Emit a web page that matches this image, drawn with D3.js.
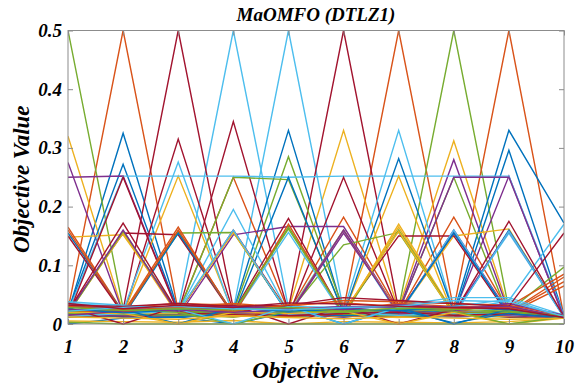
<!DOCTYPE html>
<html>
<head>
<meta charset="utf-8">
<script src="https://cdn.jsdelivr.net/npm/d3@7"></script>
<style>
  html, body { margin: 0; padding: 0; background: #fff; }
  svg text { font-family: "Liberation Serif", "Times New Roman", serif; font-weight: bold; font-style: italic; fill: #000; }
</style>
</head>
<body>
<svg id="chart" width="576" height="390"></svg>
<script>
// Objective indices on the x axis
const objectives = [1, 2, 3, 4, 5, 6, 7, 8, 9, 10];
const yTicks = [0, 0.1, 0.2, 0.3, 0.4, 0.5];
const yTickLabels = ["0", "0.1", "0.2", "0.3", "0.4", "0.5"];
const titleText = "MaOMFO (DTLZ1)";
const xLabel = "Objective No.";
const yLabel = "Objective Value";

// Final population, one row per solution (values of objectives 1..10)
const solutions = [
  [0.020,0.325,0.022,0.015,0.018,0.012,0.020,0.016,0.019,0.010],
  [0.024,0.500,0.022,0.014,0.016,0.020,0.012,0.018,0.021,0.010],
  [0.320,0.020,0.018,0.012,0.021,0.015,0.011,0.020,0.016,0.012],
  [0.275,0.018,0.020,0.016,0.014,0.022,0.015,0.013,0.018,0.011],
  [0.500,0.027,0.015,0.019,0.013,0.017,0.021,0.014,0.012,0.010],
  [0.012,0.018,0.025,0.500,0.028,0.016,0.013,0.019,0.015,0.011],
  [0.016,0.024,0.500,0.026,0.012,0.018,0.020,0.015,0.017,0.012],

  [0.022,0.272,0.020,0.017,0.015,0.019,0.014,0.021,0.013,0.010],
  [0.014,0.017,0.012,0.020,0.016,0.025,0.500,0.024,0.018,0.011],
  [0.018,0.013,0.021,0.015,0.024,0.330,0.022,0.014,0.019,0.012],
  [0.250,0.252,0.020,0.016,0.013,0.018,0.015,0.022,0.014,0.010],
  [0.013,0.019,0.016,0.012,0.021,0.014,0.026,0.500,0.025,0.011],
  [0.017,0.014,0.019,0.024,0.500,0.023,0.016,0.012,0.020,0.010],
  [0.015,0.021,0.013,0.018,0.026,0.500,0.024,0.017,0.014,0.012],

  [0.019,0.016,0.014,0.022,0.330,0.020,0.018,0.013,0.017,0.011],
  [0.012,0.015,0.018,0.013,0.017,0.014,0.019,0.026,0.500,0.012],
  [0.016,0.020,0.013,0.017,0.015,0.022,0.027,0.312,0.024,0.010],
  [0.021,0.012,0.017,0.014,0.019,0.016,0.022,0.280,0.020,0.012],
  [0.014,0.018,0.022,0.020,0.285,0.024,0.013,0.016,0.015,0.010],
  [0.013,0.017,0.015,0.019,0.014,0.022,0.330,0.020,0.018,0.011],
  [0.018,0.014,0.315,0.021,0.016,0.013,0.017,0.019,0.012,0.010],

  [0.015,0.019,0.012,0.016,0.018,0.021,0.014,0.020,0.330,0.172],
  [0.017,0.013,0.020,0.250,0.022,0.015,0.018,0.012,0.016,0.011],
  [0.020,0.016,0.252,0.018,0.013,0.019,0.015,0.017,0.021,0.012],
  [0.014,0.021,0.016,0.013,0.017,0.012,0.020,0.018,0.252,0.010],
  [0.019,0.015,0.014,0.017,0.020,0.018,0.021,0.250,0.013,0.011],
  [0.016,0.022,0.276,0.015,0.012,0.017,0.013,0.021,0.019,0.010],
  [0.013,0.017,0.019,0.345,0.021,0.014,0.016,0.013,0.018,0.012],

  [0.018,0.013,0.017,0.014,0.016,0.020,0.012,0.015,0.296,0.014],
  [0.015,0.018,0.014,0.016,0.020,0.182,0.022,0.013,0.017,0.011],
  [0.148,0.152,0.020,0.015,0.018,0.013,0.021,0.016,0.014,0.010],
  [0.017,0.012,0.018,0.020,0.015,0.021,0.019,0.014,0.013,0.010],
  [0.016,0.014,0.019,0.250,0.246,0.020,0.015,0.018,0.013,0.010],
  [0.020,0.252,0.252,0.252,0.250,0.252,0.252,0.252,0.252,0.015],
  [0.014,0.250,0.018,0.013,0.016,0.021,0.017,0.020,0.015,0.012],

  [0.012,0.016,0.020,0.015,0.250,0.018,0.014,0.021,0.017,0.010],
  [0.018,0.015,0.013,0.020,0.017,0.014,0.019,0.182,0.021,0.012],
  [0.015,0.019,0.016,0.014,0.021,0.017,0.252,0.013,0.018,0.011],
  [0.020,0.014,0.018,0.017,0.013,0.016,0.021,0.250,0.250,0.012],
  [0.017,0.021,0.014,0.018,0.016,0.020,0.013,0.019,0.022,0.097],
  [0.014,0.017,0.021,0.195,0.019,0.015,0.018,0.012,0.016,0.011],
  [0.016,0.013,0.017,0.021,0.014,0.250,0.020,0.016,0.019,0.010],

  [0.013,0.018,0.015,0.019,0.021,0.016,0.282,0.020,0.014,0.012],
  [0.019,0.016,0.021,0.014,0.018,0.022,0.015,0.017,0.020,0.080],
  [0.017,0.014,0.019,0.016,0.013,0.021,0.018,0.150,0.162,0.012],
  [0.015,0.020,0.013,0.152,0.166,0.166,0.019,0.014,0.017,0.010],
  [0.014,0.017,0.020,0.015,0.019,0.135,0.156,0.016,0.021,0.011],
  [0.018,0.015,0.017,0.020,0.014,0.018,0.016,0.021,0.040,0.170],
  [0.021,0.155,0.152,0.015,0.018,0.013,0.017,0.020,0.016,0.011],

  [0.017,0.021,0.016,0.014,0.020,0.015,0.019,0.022,0.013,0.010],
  [0.016,0.013,0.018,0.017,0.015,0.019,0.014,0.018,0.020,0.072],
  [0.013,0.016,0.014,0.021,0.017,0.014,0.170,0.018,0.015,0.011],
  [0.014,0.018,0.021,0.013,0.016,0.020,0.017,0.160,0.019,0.012],
  [0.015,0.019,0.155,0.156,0.018,0.016,0.020,0.013,0.017,0.010],
  [0.016,0.020,0.013,0.017,0.019,0.160,0.015,0.021,0.018,0.011],
  [0.019,0.015,0.017,0.020,0.180,0.014,0.018,0.016,0.021,0.012],

  [0.014,0.017,0.020,0.158,0.016,0.019,0.015,0.018,0.014,0.011],
  [0.165,0.020,0.017,0.013,0.019,0.016,0.021,0.014,0.018,0.065],
  [0.018,0.155,0.014,0.019,0.016,0.017,0.013,0.020,0.015,0.010],
  [0.020,0.016,0.019,0.017,0.014,0.155,0.021,0.015,0.018,0.012],
  [0.016,0.014,0.017,0.020,0.165,0.018,0.016,0.021,0.013,0.011],
  [0.021,0.018,0.016,0.015,0.020,0.013,0.018,0.017,0.155,0.012],
  [0.013,0.016,0.020,0.018,0.015,0.021,0.150,0.150,0.014,0.010],

  [0.155,0.020,0.014,0.017,0.019,0.015,0.013,0.018,0.016,0.011],
  [0.160,0.018,0.016,0.019,0.014,0.017,0.020,0.015,0.013,0.012],
  [0.014,0.019,0.017,0.015,0.021,0.018,0.165,0.016,0.014,0.010],
  [0.017,0.015,0.013,0.020,0.018,0.016,0.019,0.155,0.017,0.011],
  [0.019,0.013,0.158,0.016,0.014,0.020,0.017,0.019,0.015,0.012],
  [0.015,0.017,0.019,0.016,0.156,0.014,0.021,0.013,0.018,0.011],
  [0.150,0.017,0.021,0.014,0.016,0.019,0.015,0.020,0.013,0.010],

  [0.018,0.014,0.016,0.021,0.015,0.017,0.020,0.014,0.160,0.012],
  [0.016,0.019,0.165,0.015,0.018,0.014,0.016,0.021,0.017,0.011],
  [0.020,0.016,0.015,0.013,0.017,0.160,0.019,0.015,0.020,0.010],
  [0.013,0.020,0.018,0.016,0.021,0.014,0.017,0.019,0.158,0.012],
  [0.017,0.158,0.020,0.019,0.013,0.016,0.018,0.017,0.014,0.011],
  [0.019,0.016,0.014,0.018,0.017,0.021,0.015,0.160,0.016,0.010],
  [0.014,0.019,0.018,0.160,0.020,0.015,0.016,0.014,0.019,0.012],

  [0.016,0.013,0.155,0.018,0.014,0.020,0.019,0.016,0.021,0.010],
  [0.018,0.017,0.019,0.014,0.170,0.016,0.013,0.020,0.015,0.012],
  [0.015,0.018,0.020,0.156,0.019,0.013,0.016,0.017,0.014,0.011],
  [0.019,0.160,0.016,0.014,0.018,0.017,0.021,0.013,0.016,0.010],
  [0.016,0.019,0.014,0.017,0.021,0.015,0.160,0.018,0.020,0.012],
  [0.014,0.021,0.018,0.016,0.015,0.019,0.017,0.014,0.158,0.011],
  [0.017,0.014,0.016,0.019,0.018,0.014,0.016,0.018,0.175,0.012],

  [0.016,0.019,0.013,0.017,0.020,0.014,0.018,0.155,0.017,0.011],
  [0.020,0.015,0.160,0.017,0.013,0.018,0.016,0.014,0.019,0.010],
  [0.014,0.017,0.019,0.015,0.018,0.020,0.158,0.016,0.013,0.012],
  [0.017,0.014,0.016,0.020,0.015,0.160,0.017,0.019,0.014,0.011],
  [0.018,0.016,0.015,0.019,0.162,0.017,0.014,0.016,0.020,0.010],
  [0.013,0.018,0.021,0.160,0.017,0.019,0.015,0.018,0.016,0.012],
  [0.021,0.172,0.019,0.016,0.014,0.018,0.020,0.015,0.017,0.011],

  [0.000,0.010,0.012,0.000,0.020,0.025,0.024,0.002,0.018,0.010],
  [0.030,0.028,0.035,0.032,0.030,0.040,0.038,0.035,0.032,0.015],
  [0.005,0.004,0.003,0.006,0.000,0.004,0.003,0.002,0.004,0.010],
  [0.025,0.022,0.030,0.028,0.025,0.030,0.028,0.030,0.025,0.012],
  [0.003,0.000,0.000,0.000,0.000,0.000,0.000,0.000,0.000,0.000],
  [0.035,0.030,0.028,0.025,0.030,0.028,0.032,0.045,0.045,0.015],
  [0.028,0.000,0.030,0.032,0.000,0.030,0.000,0.025,0.030,0.010],

  [0.030,0.025,0.000,0.028,0.030,0.000,0.028,0.000,0.025,0.012],
  [0.022,0.020,0.030,0.035,0.028,0.025,0.035,0.030,0.030,0.085],
  [0.020,0.018,0.000,0.020,0.018,0.022,0.000,0.020,0.000,0.010],
  [0.015,0.022,0.025,0.020,0.024,0.030,0.028,0.022,0.035,0.015],
  [0.022,0.025,0.020,0.000,0.022,0.020,0.025,0.022,0.000,0.012],
  [0.038,0.032,0.025,0.000,0.030,0.000,0.028,0.030,0.042,0.012],
  [0.032,0.030,0.035,0.030,0.032,0.045,0.040,0.035,0.030,0.155],

  [0.026,0.019,0.024,0.027,0.022,0.026,0.023,0.028,0.024,0.011],
  [0.030,0.024,0.028,0.022,0.033,0.036,0.030,0.026,0.028,0.013],
  [0.012,0.010,0.008,0.014,0.011,0.009,0.012,0.010,0.008,0.010],
  [0.024,0.027,0.022,0.030,0.026,0.024,0.033,0.028,0.030,0.012],
  [0.028,0.023,0.026,0.024,0.028,0.022,0.027,0.025,0.022,0.014],
  [0.022,0.028,0.030,0.026,0.024,0.028,0.030,0.040,0.038,0.013],
  [0.035,0.026,0.032,0.028,0.036,0.034,0.030,0.028,0.026,0.011]
];

// Default line colour order, cycled per solution
const lineColors = ["#0072BD", "#D95319", "#EDB120", "#7E2F8E", "#77AC30", "#4DBEEE", "#A2142F"];

const svg = d3.select("#chart");
const W = 576, H = 390;
const plot = { left: 68, right: 564, top: 30.5, bottom: 324 };

const x = d3.scaleLinear().domain([1, 10]).range([plot.left, plot.right]);
const y = d3.scaleLinear().domain([0, 0.5]).range([plot.bottom, plot.top]);
const color = d3.scaleOrdinal().domain(d3.range(lineColors.length)).range(lineColors);

svg.append("rect").attr("width", W).attr("height", H).attr("fill", "#fff");

// Clip lines to the axes box
svg.append("clipPath").attr("id", "plotClip")
  .append("rect")
  .attr("x", plot.left).attr("y", plot.top - 1)
  .attr("width", plot.right - plot.left).attr("height", plot.bottom - plot.top + 2);

const line = d3.line()
  .x((d, i) => x(objectives[i]))
  .y(d => y(d));

svg.append("g").attr("clip-path", "url(#plotClip)")
  .selectAll("path")
  .data(solutions)
  .join("path")
  .attr("d", d => line(d))
  .attr("fill", "none")
  .attr("stroke", (d, i) => color(i % lineColors.length))
  .attr("stroke-width", 1.4)
  .attr("stroke-linejoin", "miter");

// Axes box with inward ticks on all four sides
const axisColor = "#8c8c8c";
const tickLen = 5;

function styleAxis(g) {
  g.select(".domain").remove();
  g.selectAll(".tick line").attr("stroke", axisColor).attr("stroke-width", 1);
}

function styleTickText(g) {
  g.selectAll(".tick text")
    .attr("font-size", 19).attr("font-family", "Liberation Serif, serif")
    .attr("font-weight", "bold").attr("font-style", "italic").attr("fill", "#000");
}

svg.append("g")
  .attr("transform", `translate(0,${plot.bottom})`)
  .call(d3.axisBottom(x).tickValues(objectives).tickSize(-tickLen).tickPadding(16).tickFormat(d3.format("d")))
  .call(styleAxis)
  .call(styleTickText);

svg.append("g")
  .attr("transform", `translate(0,${plot.top})`)
  .call(d3.axisTop(x).tickValues(objectives).tickSize(-tickLen).tickFormat(""))
  .call(styleAxis);

svg.append("g")
  .attr("transform", `translate(${plot.left},0)`)
  .call(d3.axisLeft(y).tickValues(yTicks).tickSize(-tickLen).tickPadding(6)
    .tickFormat((d, i) => yTickLabels[i]))
  .call(styleAxis)
  .call(styleTickText);

svg.append("g")
  .attr("transform", `translate(${plot.right},0)`)
  .call(d3.axisRight(y).tickValues(yTicks).tickSize(-tickLen).tickFormat(""))
  .call(styleAxis);

svg.append("rect")
  .attr("x", plot.left).attr("y", plot.top)
  .attr("width", plot.right - plot.left).attr("height", plot.bottom - plot.top)
  .attr("fill", "none").attr("stroke", axisColor).attr("stroke-width", 1);

// Title and axis labels
svg.append("text")
  .attr("x", (plot.left + plot.right) / 2).attr("y", 21)
  .attr("text-anchor", "middle").attr("font-size", 19)
  .text(titleText);

svg.append("text")
  .attr("x", (plot.left + plot.right) / 2).attr("y", 378)
  .attr("text-anchor", "middle").attr("font-size", 23)
  .text(xLabel);

svg.append("text")
  .attr("transform", `translate(29,${(plot.top + plot.bottom) / 2 + 2}) rotate(-90)`)
  .attr("text-anchor", "middle").attr("font-size", 23)
  .text(yLabel);
</script>
</body>
</html>
